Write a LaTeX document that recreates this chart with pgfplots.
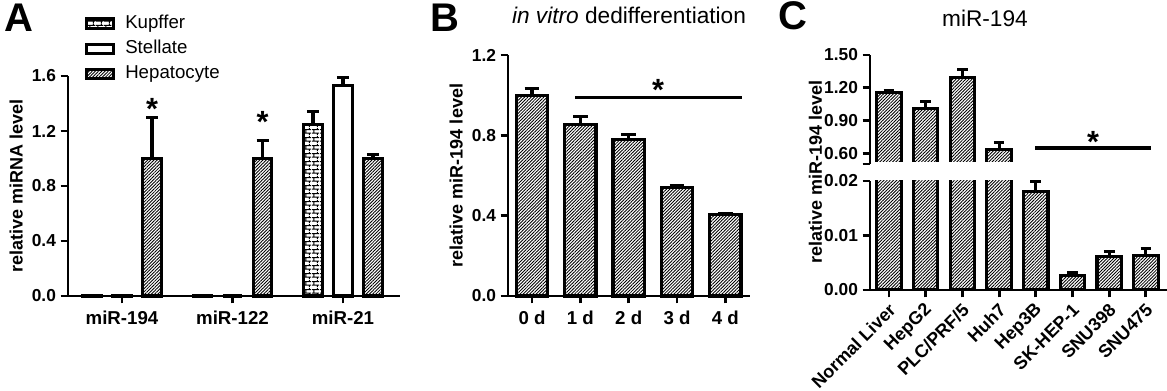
\documentclass[border=0pt]{standalone}
\usepackage{fontspec}
\setmainfont{Liberation Sans}
\usepackage{pgfplots}
\usepackage{pgfplotstable}
\pgfplotsset{compat=1.18}
\usetikzlibrary{patterns,patterns.meta}

\pgfdeclarepatternformonly{minibricks}{\pgfpointorigin}{\pgfpoint{6pt}{6pt}}{\pgfpoint{6pt}{6pt}}{%
  \pgfsetlinewidth{0.8pt}%
  \pgfpathmoveto{\pgfpoint{0pt}{1.5pt}}\pgfpathlineto{\pgfpoint{6pt}{1.5pt}}%
  \pgfpathmoveto{\pgfpoint{0pt}{4.5pt}}\pgfpathlineto{\pgfpoint{6pt}{4.5pt}}%
  \pgfpathmoveto{\pgfpoint{1.5pt}{1.5pt}}\pgfpathlineto{\pgfpoint{1.5pt}{4.5pt}}%
  \pgfpathmoveto{\pgfpoint{4.5pt}{4.5pt}}\pgfpathlineto{\pgfpoint{4.5pt}{6pt}}%
  \pgfpathmoveto{\pgfpoint{4.5pt}{0pt}}\pgfpathlineto{\pgfpoint{4.5pt}{1.5pt}}%
  \pgfusepath{stroke}}

\newcommand{\ytickfont}{\bfseries\fontsize{13}{15}\selectfont}
\newcommand{\xtickfont}{\bfseries\fontsize{14}{16}\selectfont}
\newcommand{\labfont}{\bfseries\fontsize{13.5}{15}\selectfont}
\newcommand{\starfont}{\bfseries\fontsize{23}{25}\selectfont}
\tikzset{hatch/.style={pattern={Lines[angle=45,distance=1.7pt,line width=0.65pt]}}}

\pgfplotsset{
  gp/.style={
    scale only axis,
    axis x line*=bottom, axis y line*=left,
    axis line style={line width=2.2pt, -},
    tick style={line width=2.2pt, black},
    major tick length=5.5pt,
    tick align=outside,
    yticklabel style={font=\ytickfont},
    xticklabel style={font=\xtickfont},
    label style={font=\labfont},
    /pgf/number format/assume math mode=true,
    ybar,
    legend image code/.code={\draw[#1, line width=2.3pt] (0pt,-3.4pt) rectangle (20pt,3.4pt);},
  },
  barsty/.style={draw=black, line width=2.3pt,
    /pgfplots/error bars/y dir=plus, /pgfplots/error bars/y explicit,
    /pgfplots/error bars/error bar style={line width=2.3pt, black},
    /pgfplots/error bars/error mark options={rotate=90, line width=2.3pt, black, mark size=#1}},
}

% Panel A data: x = category, y = mean, e = error (plus)
\pgfplotstableread{
x y e
0 0.005 0.0
1 0.003 0.0
2 1.25 0.09
}\kupffer
\pgfplotstableread{
x y e
0 0.003 0.0
1 0.0 0.0
2 1.53 0.06
}\stellate
\pgfplotstableread{
x y e
0 1.0 0.30
1 1.0 0.13
2 1.0 0.03
}\hepato
% Panel B
\pgfplotstableread{
x y e
0 1.00 0.035
1 0.855 0.04
2 0.78 0.025
3 0.54 0.012
4 0.405 0.006
}\dediff
% Panel C
\pgfplotstableread{
x y e
0 1.160 0.010
1 1.005 0.070
2 1.293 0.070
3 0.630 0.070
4 0.0180 0.0020
5 0.0026 0.0006
6 0.0062 0.0009
7 0.0063 0.0013
}\celllines

\begin{document}
\begin{tikzpicture}
\path[use as bounding box] (0,0) rectangle (875.25pt,293.25pt);

\node[anchor=base west, inner sep=0pt, font=\bfseries\fontsize{30}{32}\selectfont] at (3pt,269.25pt) {A};
\node[anchor=base west, inner sep=0pt, font=\bfseries\fontsize{30}{32}\selectfont] at (323pt,269.25pt) {B};
\node[anchor=base west, inner sep=0pt, font=\bfseries\fontsize{30}{32}\selectfont] at (584pt,270.75pt) {C};

% ---------------- Panel A ----------------
\begin{axis}[gp, at={(51pt,71.25pt)}, anchor=south west, width=249pt, height=165pt,
  xmin=-0.489, xmax=2.516, ymin=0, ymax=1.6,
  ytick={0,0.4,0.8,1.2,1.6},
  yticklabel style={/pgf/number format/.cd, fixed, fixed zerofill, precision=1},
  xtick={0,1,2}, xticklabels={miR-194,miR-122,miR-21},
  xticklabel style={yshift=-2.5pt},
  ylabel={relative miRNA level},
  clip=false,
  legend style={at={(0.05,1.285)}, anchor=north west, draw=none, fill=none,
    font=\fontsize{14}{16}\selectfont, row sep=4pt, inner sep=0pt,
    nodes={inner sep=1pt, text height=10pt, text depth=3pt},
    /tikz/every odd column/.append style={column sep=7pt}},
  legend cell align=left,
]
\addplot[barsty=4.5pt, bar width=14pt, bar shift=-22.5pt, pattern=minibricks] table[x=x,y=y,y error=e] {\kupffer};
\addlegendentry{Kupffer}
\addplot[barsty=4.5pt, bar width=14pt, bar shift=0pt, fill=white] table[x=x,y=y,y error=e] {\stellate};
\addlegendentry{Stellate}
\addplot[barsty=4.5pt, bar width=14pt, bar shift=22.5pt, hatch] table[x=x,y=y,y error=e] {\hepato};
\addlegendentry{Hepatocyte}
\node[anchor=base, inner sep=0pt, font=\starfont] at (axis cs:0.2715,1.28) {*};
\node[anchor=base, inner sep=0pt, font=\starfont] at (axis cs:1.2715,1.19) {*};
\end{axis}

% ---------------- Panel B ----------------
\begin{axis}[gp, at={(381pt,71.25pt)}, anchor=south west, width=181.5pt, height=180.75pt,
  xmin=-0.497, xmax=4.51, ymin=0, ymax=1.2,
  ytick={0,0.4,0.8,1.2},
  yticklabel style={/pgf/number format/.cd, fixed, fixed zerofill, precision=1},
  xtick={0,1,2,3,4}, xticklabels={0 d,1 d,2 d,3 d,4 d},
  xticklabel style={yshift=-2.5pt},
  ylabel={relative miR-194 level},
  title={\textit{in vitro} dedifferentiation},
  title style={at={(0.5,1)}, anchor=base, yshift=17.5pt, font=\fontsize{17}{19}\selectfont},
  clip=false,
]
\addplot[barsty=5.5pt, bar width=23.5pt, bar shift=0pt, hatch] table[x=x,y=y,y error=e] {\dediff};
\draw[line width=2.3pt] (axis cs:0.89,0.99) -- (axis cs:4.35,0.99);
\node[anchor=base, inner sep=0pt, font=\starfont] at (axis cs:2.61,0.975) {*};
\end{axis}

% ---------------- Panel C (upper segment) ----------------
\begin{axis}[gp, at={(652.5pt,170.25pt)}, anchor=south west, width=222.75pt, height=81.75pt,
  axis x line=none, axis y line*=left,
  xmin=-0.518, xmax=7.575, ymin=0.5, ymax=1.5,
  ytick={0.6,0.9,1.2,1.5},
  extra y ticks={0.5}, extra y tick labels={},
  yticklabel style={/pgf/number format/.cd, fixed, fixed zerofill, precision=2},
  title={miR-194},
  title style={at={(0.387,1)}, anchor=base, yshift=15.5pt, font=\fontsize{17}{19}\selectfont},
]
\addplot[barsty=4pt, bar width=18.3pt, bar shift=0pt, hatch, restrict x to domain=0:3] table[x=x,y=y,y error=e] {\celllines};
\fill[white] (axis cs:-0.48,0.5) rectangle (axis cs:3.6,0.514);
\draw[line width=2.3pt] (axis cs:3.98,0.647) -- (axis cs:7.14,0.647);
\node[anchor=base, inner sep=0pt, font=\starfont] at (axis cs:5.56,0.605) {*};
\end{axis}

% ---------------- Panel C (lower segment) ----------------
\begin{axis}[gp, at={(652.5pt,75.75pt)}, anchor=south west, width=222.75pt, height=81.75pt,
  xmin=-0.518, xmax=7.575, ymin=0, ymax=0.02,
  ytick={0,0.01,0.02},
  yticklabel style={/pgf/number format/.cd, fixed, fixed zerofill, precision=2},
  scaled y ticks=false,
  xtick={0,...,7},
  xticklabels={Normal Liver,HepG2,PLC/PRF/5,Huh7,Hep3B,SK-HEP-1,SNU398,SNU475},
  xticklabel style={font=\bfseries\fontsize{13.5}{15}\selectfont, xshift=5pt, yshift=-5pt, rotate=45, anchor=east},
]
\addplot[barsty=4pt, bar width=18.3pt, bar shift=0pt, hatch] table[x=x,y=y,y error=e] {\celllines};
\end{axis}

\node[rotate=90, font=\labfont] at (611.5pt,164pt) {relative miR-194 level};

\end{tikzpicture}
\end{document}
